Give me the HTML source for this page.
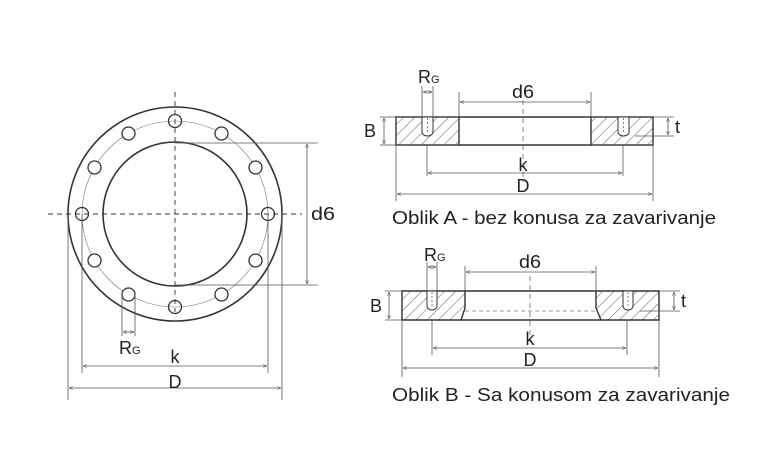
<!DOCTYPE html>
<html><head><meta charset="utf-8"><style>
html,body{margin:0;padding:0;background:#fff}
svg{display:block}
text{font-family:"Liberation Sans",sans-serif;fill:#222}
</style></head><body>
<svg width="780" height="476" viewBox="0 0 780 476" xmlns="http://www.w3.org/2000/svg">
<defs>
<pattern id="h" patternUnits="userSpaceOnUse" width="8" height="8" patternTransform="rotate(45)">
<line x1="0" y1="0" x2="0" y2="8" stroke="#333" stroke-width="0.8"/>
</pattern>
<marker id="a" viewBox="0 0 10 10" refX="10" refY="5" markerWidth="5" markerHeight="5" orient="auto-start-reverse">
<path d="M0,1 L10,5 L0,9" fill="none" stroke="#444" stroke-width="1.2"/>
</marker>
</defs>
<g stroke="#333" fill="none">
<circle cx="175" cy="214" r="107" stroke-width="1.6"/>
<circle cx="175" cy="214" r="72" stroke-width="1.6"/>
<circle cx="175" cy="214" r="93" stroke-width="0.6" stroke="#777"/>
<line x1="175" y1="92" x2="175" y2="312" stroke-dasharray="5,4" stroke-width="0.9"/>
<line x1="48" y1="214" x2="302" y2="214" stroke-dasharray="5,4" stroke-width="0.9"/>
<g stroke-width="1.3">
<circle cx="175" cy="121" r="6.5"/><circle cx="221.5" cy="133.5" r="6.5" fill="#fff"/><circle cx="255.5" cy="167.5" r="6.5" fill="#fff"/>
<circle cx="268" cy="214" r="6.5"/><circle cx="255.5" cy="260.5" r="6.5" fill="#fff"/><circle cx="221.5" cy="294.5" r="6.5" fill="#fff"/>
<circle cx="175" cy="307" r="6.5"/><circle cx="128.5" cy="294.5" r="6.5" fill="#fff"/><circle cx="94.5" cy="260.5" r="6.5" fill="#fff"/>
<circle cx="82" cy="214" r="6.5"/><circle cx="94.5" cy="167.5" r="6.5" fill="#fff"/><circle cx="128.5" cy="133.5" r="6.5" fill="#fff"/>
</g>
<g stroke-width="0.8" stroke="#555">
<line x1="175" y1="143" x2="318" y2="143"/><line x1="175" y1="285" x2="318" y2="285"/>
<line x1="307" y1="144" x2="307" y2="284" marker-start="url(#a)" marker-end="url(#a)"/>
<line x1="82" y1="214" x2="82" y2="373"/><line x1="268" y1="214" x2="268" y2="373"/>
<line x1="83" y1="366" x2="267" y2="366" marker-start="url(#a)" marker-end="url(#a)"/>
<line x1="68" y1="214" x2="68" y2="400"/><line x1="282" y1="214" x2="282" y2="400"/>
<line x1="69" y1="388" x2="281" y2="388" marker-start="url(#a)" marker-end="url(#a)"/>
<line x1="122" y1="294" x2="122" y2="336"/><line x1="135" y1="294" x2="135" y2="336"/>
<line x1="123" y1="332" x2="134" y2="332" marker-start="url(#a)" marker-end="url(#a)"/>
</g>

<rect x="396" y="117" width="63" height="28" fill="url(#h)" stroke-width="1.4"/>
<rect x="591" y="117" width="62" height="28" fill="url(#h)" stroke-width="1.4"/>
<line x1="459" y1="117" x2="591" y2="117" stroke-width="1.4"/>
<line x1="459" y1="145" x2="591" y2="145" stroke-width="1.4"/>
<path d="M422,117 V132 A5.5,4 0 0 0 433,132 V117 Z" fill="#fff" stroke-width="1"/>
<path d="M618,117 V132 A5.5,4 0 0 0 629,132 V117 Z" fill="#fff" stroke-width="1"/>
<line x1="427.5" y1="118" x2="427.5" y2="133" stroke-dasharray="2,2" stroke-width="0.6"/>
<line x1="623.5" y1="118" x2="623.5" y2="133" stroke-dasharray="2,2" stroke-width="0.6"/>
<line x1="523" y1="100" x2="523" y2="182" stroke-dasharray="5,4" stroke-width="0.8" stroke="#666"/>
<g stroke-width="0.8" stroke="#555">
<line x1="459" y1="92" x2="459" y2="117"/><line x1="591" y1="92" x2="591" y2="117"/>
<line x1="460" y1="102" x2="590" y2="102" marker-start="url(#a)" marker-end="url(#a)"/>
<line x1="422" y1="86" x2="422" y2="117"/><line x1="433" y1="86" x2="433" y2="117"/>
<line x1="423" y1="92" x2="432" y2="92" marker-start="url(#a)" marker-end="url(#a)"/>
<line x1="380" y1="117" x2="396" y2="117"/><line x1="380" y1="145" x2="396" y2="145"/>
<line x1="384" y1="118" x2="384" y2="144" marker-start="url(#a)" marker-end="url(#a)"/>
<line x1="653" y1="117" x2="674" y2="117"/><line x1="635" y1="136" x2="674" y2="136"/>
<line x1="668" y1="118" x2="668" y2="135" marker-start="url(#a)" marker-end="url(#a)"/>
<line x1="427" y1="145" x2="427" y2="176"/><line x1="623" y1="145" x2="623" y2="176"/>
<line x1="428" y1="173" x2="622" y2="173" marker-start="url(#a)" marker-end="url(#a)"/>
<line x1="396" y1="145" x2="396" y2="201"/><line x1="653" y1="145" x2="653" y2="201"/>
<line x1="397" y1="194" x2="652" y2="194" marker-start="url(#a)" marker-end="url(#a)"/>
</g>

<path d="M402,291 H465 V308 L461,320 H402 Z" fill="url(#h)" stroke-width="1.4"/>
<path d="M596,291 H659 V320 H601 L596,308 Z" fill="url(#h)" stroke-width="1.4"/>
<line x1="465" y1="291" x2="596" y2="291" stroke-width="1.4"/>
<line x1="461" y1="320" x2="601" y2="320" stroke-width="1.4"/>
<line x1="465" y1="311" x2="596" y2="311" stroke-dasharray="4,3" stroke-width="0.7" stroke="#777"/>
<path d="M427,291 V306 A5,4 0 0 0 437,306 V291 Z" fill="#fff" stroke-width="1"/>
<path d="M623,291 V306 A5,4 0 0 0 633,306 V291 Z" fill="#fff" stroke-width="1"/>
<line x1="432" y1="292" x2="432" y2="307" stroke-dasharray="2,2" stroke-width="0.6"/>
<line x1="628" y1="292" x2="628" y2="307" stroke-dasharray="2,2" stroke-width="0.6"/>
<line x1="530" y1="276" x2="530" y2="342" stroke-dasharray="5,4" stroke-width="0.8" stroke="#666"/>
<g stroke-width="0.8" stroke="#555">
<line x1="465" y1="266" x2="465" y2="291"/><line x1="596" y1="266" x2="596" y2="291"/>
<line x1="466" y1="272" x2="595" y2="272" marker-start="url(#a)" marker-end="url(#a)"/>
<line x1="427" y1="262" x2="427" y2="291"/><line x1="437" y1="262" x2="437" y2="291"/>
<line x1="428" y1="267" x2="436" y2="267" marker-start="url(#a)" marker-end="url(#a)"/>
<line x1="385" y1="291" x2="402" y2="291"/><line x1="385" y1="320" x2="402" y2="320"/>
<line x1="389" y1="292" x2="389" y2="319" marker-start="url(#a)" marker-end="url(#a)"/>
<line x1="659" y1="291" x2="680" y2="291"/><line x1="640" y1="311" x2="680" y2="311"/>
<line x1="674" y1="292" x2="674" y2="310" marker-start="url(#a)" marker-end="url(#a)"/>
<line x1="432" y1="320" x2="432" y2="355"/><line x1="627" y1="320" x2="627" y2="355"/>
<line x1="433" y1="348" x2="626" y2="348" marker-start="url(#a)" marker-end="url(#a)"/>
<line x1="402" y1="320" x2="402" y2="377"/><line x1="659" y1="320" x2="659" y2="377"/>
<line x1="403" y1="368" x2="658" y2="368" marker-start="url(#a)" marker-end="url(#a)"/>
</g>
</g>
<g font-size="18">
<text x="311" y="220" textLength="24" lengthAdjust="spacingAndGlyphs">d6</text>
<text x="175" y="363" text-anchor="middle">k</text>
<text x="175" y="388" text-anchor="middle">D</text>
<text x="119" y="354">R<tspan font-size="11">G</tspan></text>
<text x="512" y="98" textLength="22" lengthAdjust="spacingAndGlyphs">d6</text>
<text x="418" y="83">R<tspan font-size="11">G</tspan></text>
<text x="364" y="137">B</text>
<text x="675" y="133">t</text>
<text x="523" y="171" text-anchor="middle">k</text>
<text x="523" y="192" text-anchor="middle">D</text>
<text x="519" y="268" textLength="22" lengthAdjust="spacingAndGlyphs">d6</text>
<text x="424" y="261">R<tspan font-size="11">G</tspan></text>
<text x="370" y="312">B</text>
<text x="681" y="307">t</text>
<text x="530" y="345" text-anchor="middle">k</text>
<text x="530" y="366" text-anchor="middle">D</text>
<text x="392" y="224" textLength="324" lengthAdjust="spacingAndGlyphs">Oblik A - bez konusa za zavarivanje</text>
<text x="392" y="401" textLength="338" lengthAdjust="spacingAndGlyphs">Oblik B - Sa konusom za zavarivanje</text>
</g>
</svg>
</body></html>
